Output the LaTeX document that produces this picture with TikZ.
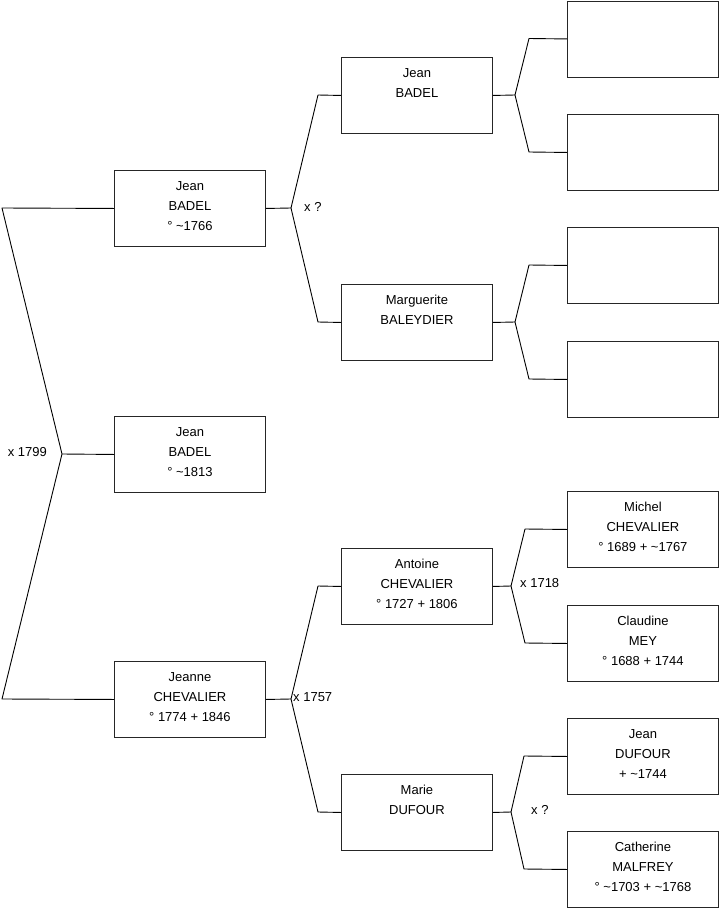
\documentclass[tikz,border=0pt]{standalone}
\usepackage{fontspec}
\setmainfont{Liberation Sans}
\begin{document}
\begin{tikzpicture}[x=1pt,y=-1pt,
  person/.style={draw=black!85,line width=0.9pt,minimum width=151pt,minimum height=76pt,inner sep=0pt,anchor=north west},
  ptext/.style={anchor=north,inner sep=0pt,align=center,font=\fontsize{13}{20}\selectfont},
  lbl/.style={inner sep=0pt,font=\fontsize{13}{20}\selectfont},
  link/.style={draw=black,line width=0.9pt,line join=round}]
\useasboundingbox (0,0) rectangle (719,908);
% generation 1
\node[person] (b1) at (114,170) {};
\node[person] (b2) at (114,416) {};
\node[person] (b3) at (114,661) {};
% generation 2
\node[person] (p1) at (341,57) {};
\node[person] (p2) at (341,284) {};
\node[person] (p3) at (341,548) {};
\node[person] (p4) at (341,774) {};
% generation 3
\node[person] (g1) at (567,0.5) {};
\node[person] (g2) at (567,114) {};
\node[person] (g3) at (567,227) {};
\node[person] (g4) at (567,341) {};
\node[person] (g5) at (567,491) {};
\node[person] (g6) at (567,605) {};
\node[person] (g7) at (567,718) {};
\node[person] (g8) at (567,831) {};
% texts
\node[ptext] (t1) at ([yshift=-11pt]b1.north) {Jean\\BADEL\\° \textasciitilde1766};
\node[ptext] (t2) at ([yshift=-11pt]b2.north) {Jean\\BADEL\\° \textasciitilde1813};
\node[ptext] (t3) at ([yshift=-11pt]b3.north) {Jeanne\\CHEVALIER\\° 1774 + 1846};
\node[ptext] (t4) at ([yshift=-11pt]p1.north) {Jean\\BADEL};
\node[ptext] (t5) at ([yshift=-11pt]p2.north) {Marguerite\\BALEYDIER};
\node[ptext] (t6) at ([yshift=-11pt]p3.north) {Antoine\\CHEVALIER\\° 1727 + 1806};
\node[ptext] (t7) at ([yshift=-11pt]p4.north) {Marie\\DUFOUR};
\node[ptext] (t8) at ([yshift=-11pt]g5.north) {Michel\\CHEVALIER\\° 1689 + \textasciitilde1767};
\node[ptext] (t9) at ([yshift=-11pt]g6.north) {Claudine\\MEY\\° 1688 + 1744};
\node[ptext] (t10) at ([yshift=-11pt]g7.north) {Jean\\DUFOUR\\+ \textasciitilde1744};
\node[ptext] (t11) at ([yshift=-11pt]g8.north) {Catherine\\MALFREY\\° \textasciitilde1703 + \textasciitilde1768};
% root connectors
\coordinate (r1) at (2,208);
\coordinate (r2) at (2,699);
\coordinate (rj) at (62,454);
\draw[link] (b1.west) -- (r1) -- (rj) -- (r2) -- (b3.west);
\draw[link] (rj) -- (b2.west);
\node[lbl,anchor=east] (m0) at (47,452) {x 1799};
% b1 parents
\coordinate (j1) at (291,208);
\coordinate (j1a) at (318,95);
\coordinate (j1b) at (318,322);
\draw[link] (b1.east) -- (j1) -- (j1a) -- (p1.west);
\draw[link] (j1) -- (j1b) -- (p2.west);
\node[lbl,anchor=west] (m1) at (304,207) {x ?};
% b3 parents
\coordinate (j2) at (291,699);
\coordinate (j2a) at (318,586);
\coordinate (j2b) at (318,812);
\draw[link] (b3.east) -- (j2) -- (j2a) -- (p3.west);
\draw[link] (j2) -- (j2b) -- (p4.west);
\node[lbl,anchor=west] (m2) at (293,697) {x 1757};
% p1 parents
\coordinate (k1) at (515,95);
\coordinate (k1a) at (529,38.5);
\coordinate (k1b) at (529,152);
\draw[link] (p1.east) -- (k1) -- (k1a) -- (g1.west);
\draw[link] (k1) -- (k1b) -- (g2.west);
% p2 parents
\coordinate (k2) at (515,322);
\coordinate (k2a) at (529,265);
\coordinate (k2b) at (529,379);
\draw[link] (p2.east) -- (k2) -- (k2a) -- (g3.west);
\draw[link] (k2) -- (k2b) -- (g4.west);
% p3 parents
\coordinate (k3) at (511,586);
\coordinate (k3a) at (525,529);
\coordinate (k3b) at (525,643);
\draw[link] (p3.east) -- (k3) -- (k3a) -- (g5.west);
\draw[link] (k3) -- (k3b) -- (g6.west);
\node[lbl,anchor=west] (m3) at (520,583) {x 1718};
% p4 parents
\coordinate (k4) at (511,812);
\coordinate (k4a) at (524,756);
\coordinate (k4b) at (524,869);
\draw[link] (p4.east) -- (k4) -- (k4a) -- (g7.west);
\draw[link] (k4) -- (k4b) -- (g8.west);
\node[lbl,anchor=west] (m4) at (531,810) {x ?};
\end{tikzpicture}
\end{document}
